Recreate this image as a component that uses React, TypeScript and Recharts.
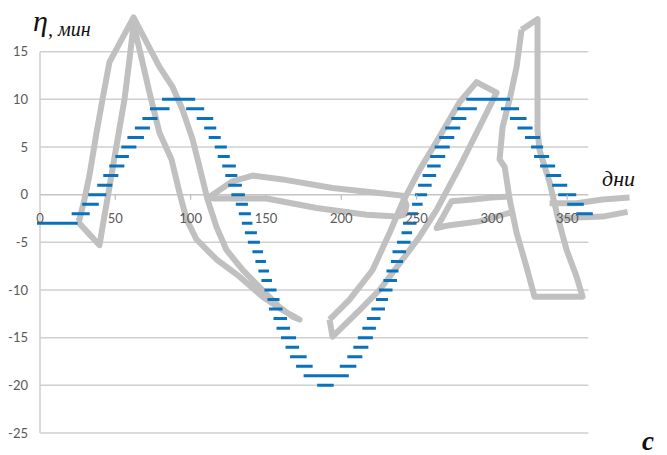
import { ComposedChart, Line, Scatter, XAxis, YAxis, ReferenceLine } from 'recharts'

const yTicks = [-25, -20, -15, -10, -5, 0, 5, 10, 15]
const xTicks = [0, 50, 100, 150, 200, 250, 300, 350]

// blue steps: minutes value held from start day to end day
const stepLevel = [
  -3, -2, -1, 0, 1, 2, 3, 4, 5, 6, 7, 8, 9, 10,
  9, 8, 7, 6, 5, 4, 3, 2, 1, 0, -1, -2, -3, -4, -5, -6, -7, -8, -9, -10,
  -11, -12, -13, -14, -15, -16, -17, -18, -19, -20,
  -18, -17, -16, -15, -14, -13, -12, -11, -10, -9, -8, -7, -6, -5, -4, -3, -2, -1,
  0, 1, 2, 3, 4, 5, 6, 7, 8, 9, 10,
  9, 8, 7, 6, 5, 4, 3, 2, 1, 0, -1, -2,
]
const stepStart = [
  -2, 21, 28, 32, 38, 42, 46, 50, 54, 58, 63, 68, 73, 81,
  97, 104, 109, 112, 116, 118, 121, 123, 125, 127, 130, 132, 134, 136, 138, 141, 143, 145, 147, 149,
  151, 152, 155, 157, 160, 163, 166, 170, 175, 184,
  199, 204, 208, 211, 214, 217, 220, 223, 225, 228, 230, 233, 234, 237, 240, 241, 244, 247,
  249, 251, 254, 257, 259, 262, 265, 269, 273, 277, 283,
  306, 312, 317, 322, 326, 328, 332, 336, 340, 344, 350, 356,
]
const stepEnd = [
  25, 33, 39, 44, 48, 52, 56, 59, 64, 69, 73, 78, 86, 103,
  109, 115, 117, 120, 124, 126, 130, 131, 134, 136, 138, 140, 141, 144, 146, 148, 150, 152, 154, 157,
  159, 161, 164, 166, 170, 172, 177, 181, 205, 195,
  210, 214, 218, 221, 223, 226, 229, 231, 234, 237, 238, 241, 243, 246, 247, 250, 251, 254,
  257, 260, 263, 266, 269, 272, 275, 279, 283, 290, 312,
  318, 323, 327, 332, 334, 338, 342, 346, 350, 356, 361, 367,
]

// gray outline pieces as [day, minutes]
const outlineMain: [number, number][] = [
  [24.9, -2.8], [26.2, -2.6], [29.5, -0.5], [32.9, 2.1], [37.5, 6.5], [41.5, 10.0], [46.1, 13.9],
  [62.1, 18.6], [70.7, 16.0], [79.3, 13.4], [88.0, 11.3], [94.6, 8.9], [101.3, 5.8], [105.9, 2.9],
  [111.2, -0.5], [117.2, -3.4], [123.8, -5.8], [134.5, -7.9], [147.7, -10.0], [159.0, -11.8],
  [167.7, -12.8], [172.3, -13.1], [161.0, -12.1], [147.7, -10.7], [132.5, -8.6], [117.2, -6.8],
  [103.9, -4.7], [97.3, -2.6], [92.6, 0.2], [87.3, 3.7], [79.3, 6.5], [72.7, 10.7], [66.1, 15.2],
  [62.1, 17.8], [59.4, 14.2], [56.1, 10.0], [51.5, 5.8], [46.1, 0.8], [41.5, -3.4], [39.5, -5.3],
  [24.9, -2.8],
]
const outlineLoop: [number, number][] = [
  [111.9, -0.3], [127.8, 1.4], [141.1, 2.0], [161.0, 1.6], [194.2, 0.7], [223.4, 0.2], [240.6, -0.1],
  [243.3, -1.1], [242.0, -2.1], [236.7, -2.3], [216.8, -2.1], [183.6, -1.4], [150.4, -0.4],
  [115.9, -0.4], [111.9, -0.3],
]
const outlineBand: [number, number][] = [
  [192.2, -13.1], [205.5, -11.0], [220.8, -7.9], [232.1, -4.0], [240.7, -0.8], [252.0, 2.6],
  [265.3, 6.1], [278.5, 9.7], [289.8, 11.8], [303.1, 10.7], [291.8, 7.1], [278.5, 2.9], [263.3, -1.6],
  [252.0, -4.4], [240.7, -6.8], [225.4, -10.0], [212.2, -12.1], [194.2, -14.9], [192.2, -13.1],
]
const outlineSmallLoop: [number, number][] = [
  [311.8, -0.2], [299.8, -0.3], [287.2, -0.5], [273.2, -0.7], [263.3, -3.5], [272.0, -3.2],
  [291.8, -2.8], [311.8, -1.9],
]
const outlineSpike: [number, number][] = [
  [319.7, 17.3], [330.3, 18.4], [330.3, 6.8], [331.6, 4.7], [338.3, 1.3], [343.6, -2.3], [349.6, -5.8],
  [356.2, -8.6], [360.2, -10.7], [328.3, -10.7], [323.0, -7.6], [316.4, -4.0], [311.8, -0.5],
  [308.5, 2.9], [305.1, 3.7], [307.1, 7.1], [311.8, 10.0], [316.4, 13.4], [319.7, 17.3],
]
const tailUpper: [number, number][] = [[338.3, -0.9], [356.2, -0.9], [373.5, -0.5], [391.4, -0.3]]
const tailLower: [number, number][] = [[343.6, -2.5], [356.2, -2.4], [373.5, -2.3], [390.1, -1.8]]

const outlines = [outlineMain, outlineLoop, outlineBand, outlineSmallLoop, outlineSpike, tailUpper, tailLower]

const stepData = stepLevel.flatMap((v, i) => [
  { d: stepStart[i], v },
  { d: stepEnd[i], v },
  { d: stepEnd[i], v: null },
])
const tickData = xTicks.map(d => ({ d, v: 0 }))

const GRID = '#cfcfcf'
const LABEL = '#595959'
const FONT = 'Lato, "Open Sans", sans-serif'

const XTick = (props: any) => {
  const { cx, cy, payload } = props
  return (
    <g>
      {payload.d > 0 && <line x1={cx} x2={cx} y1={cy} y2={cy + 5} stroke="#bdbdbd" strokeWidth={1.2} />}
      <text x={cx} y={cy + 28} textAnchor="middle" fill={LABEL} fontSize={13} fontFamily={FONT}>
        {payload.d}
      </text>
    </g>
  )
}

export default function App() {
  return (
    <div style={{ position: 'absolute', left: 0, top: 0, width: 667, height: 455, background: '#fff' }}>
      <ComposedChart width={667} height={455} margin={{ top: 4, right: 32, bottom: 22, left: 0 }}>
        <XAxis type="number" dataKey="d" domain={[-2, 395]} hide />
        <YAxis
          type="number"
          dataKey="v"
          domain={[-25, 20]}
          ticks={yTicks}
          interval={0}
          width={37}
          axisLine={false}
          tickLine={false}
          tickSize={0}
          tickMargin={9}
          tick={{ fill: LABEL, fontSize: 13, fontFamily: FONT }}
        />
        {yTicks.map(v => (
          <ReferenceLine
            key={v}
            segment={[{ x: 0, y: v }, { x: 364, y: v }]}
            stroke={v === 0 ? '#c4c4c4' : GRID}
            strokeWidth={1.5}
          />
        ))}
        <ReferenceLine segment={[{ x: 0, y: -25 }, { x: 0, y: 15 }]} stroke={GRID} strokeWidth={1.5} />
        {outlines.map((pts, i) => (
          <Line
            key={i}
            data={pts.map(([d, v]) => ({ d, v }))}
            dataKey="v"
            type="linear"
            stroke="#c0c0c0"
            strokeWidth={6}
            strokeLinejoin="round"
            dot={false}
            activeDot={false}
            isAnimationActive={false}
          />
        ))}
        <Line
          data={stepData}
          dataKey="v"
          type="linear"
          stroke="#0a72bd"
          strokeWidth={3}
          strokeLinecap="butt"
          dot={false}
          activeDot={false}
          connectNulls={false}
          isAnimationActive={false}
        />
        <Scatter data={tickData} dataKey="v" shape={XTick} isAnimationActive={false} />
      </ComposedChart>
      <svg width={667} height={455} style={{ position: 'absolute', left: 0, top: 0, pointerEvents: 'none' }}>
        <text x={33} y={31} fontFamily='"Liberation Serif", serif' fontStyle="italic" fontSize={30} fill="#111">
          η
        </text>
        <text x={48} y={36} fontFamily='"Liberation Serif", serif' fontStyle="italic" fontSize={20} fill="#111">
          , мин
        </text>
        <text x={602} y={186} fontFamily='"Liberation Serif", serif' fontStyle="italic" fontSize={22} fill="#111">
          дни
        </text>
        <text x={642} y={450} fontFamily='"Liberation Serif", serif' fontStyle="italic" fontWeight="bold" fontSize={27} fill="#111">
          c
        </text>
      </svg>
    </div>
  )
}
